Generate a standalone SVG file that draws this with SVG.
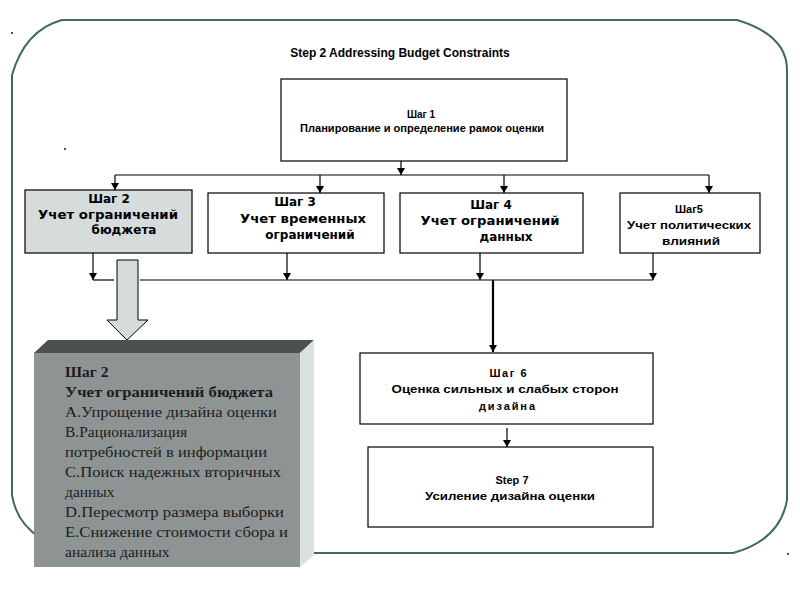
<svg xmlns="http://www.w3.org/2000/svg" width="800" height="600" viewBox="0 0 800 600">
<defs>
<style>
.box{fill:#fff;stroke:#000;stroke-width:1.2}
.t{font-family:"Liberation Sans",Arial,sans-serif;font-weight:bold;fill:#000;text-anchor:middle}
.d{font-family:"DejaVu Sans",Verdana,sans-serif;font-weight:bold;fill:#000;text-anchor:middle;font-size:12px}
.s{font-family:"Liberation Serif","Times New Roman",serif;fill:#1c1c1c;font-size:15.5px}
.ln{stroke:#000;stroke-width:1.2;fill:none}
</style>
<marker id="ah" markerWidth="8" markerHeight="8" refX="7" refY="4" orient="auto" markerUnits="userSpaceOnUse">
<path d="M0,0 L7,4 L0,8 Z" fill="#000"/>
</marker>
</defs>
<rect width="800" height="600" fill="#fff"/>
<path id="frame" d="M62,20 H737 Q787,35 787,70 V500 Q780,540 733,553 H90 Q20,545 12,495 V75 Q25,30 62,20 Z" fill="none" stroke="#3f6868" stroke-width="2"/>
<rect x="11" y="32" width="2" height="2" fill="#555"/>
<rect x="64" y="148" width="2" height="2" fill="#555"/>
<rect x="787" y="553" width="2" height="2" fill="#555"/>
<text class="t" x="400" y="57" font-size="12">Step 2 Addressing Budget Constraints</text>

<g id="connectors">
<line class="ln" x1="401" y1="157" x2="401" y2="175" marker-end="url(#ah)"/>
<line class="ln" x1="115" y1="175" x2="709" y2="175"/>
<line class="ln" x1="115" y1="175" x2="115" y2="190" marker-end="url(#ah)"/>
<line class="ln" x1="320" y1="175" x2="320" y2="193" marker-end="url(#ah)"/>
<line class="ln" x1="504" y1="175" x2="504" y2="193" marker-end="url(#ah)"/>
<line class="ln" x1="709" y1="175" x2="709" y2="193" marker-end="url(#ah)"/>
<line class="ln" x1="93" y1="253" x2="93" y2="280" marker-end="url(#ah)"/>
<line class="ln" x1="287" y1="253" x2="287" y2="280" marker-end="url(#ah)"/>
<line class="ln" x1="480" y1="253" x2="480" y2="280" marker-end="url(#ah)"/>
<line class="ln" x1="653" y1="253" x2="653" y2="280" marker-end="url(#ah)"/>
<line class="ln" x1="93" y1="280" x2="114" y2="280"/>
<line class="ln" x1="140" y1="280" x2="653" y2="280"/>
<line stroke="#000" stroke-width="2.2" x1="493" y1="280" x2="493" y2="352" marker-end="url(#ah)"/>
<line class="ln" x1="507" y1="428" x2="507" y2="447" marker-end="url(#ah)"/>
<path id="blockarrow" d="M117,260 H138 V320 H148 L127,340 L107,320 H117 Z" fill="#d6dcdc" stroke="#000" stroke-width="1"/>
</g>

<g id="step1">
<rect class="box" x="281" y="79" width="286" height="82"/>
<text class="t" x="421" y="118" font-size="10">Шаг 1</text>
<text class="t" x="422" y="132" font-size="10" textLength="244" lengthAdjust="spacingAndGlyphs">Планирование и определение рамок оценки</text>
</g>

<g id="step2">
<rect x="25" y="190" width="167" height="63" fill="#d6dcdc" stroke="#000" stroke-width="1.2"/>
<text class="d" x="109" y="203">Шаг 2</text>
<text class="d" x="108" y="219" textLength="140" lengthAdjust="spacingAndGlyphs">Учет ограничений</text>
<text class="d" x="124" y="234">бюджета</text>
</g>

<g id="step3">
<rect class="box" x="208" y="193" width="176" height="60"/>
<text class="d" x="295" y="206">Шаг 3</text>
<text class="d" x="303" y="223" textLength="126" lengthAdjust="spacingAndGlyphs">Учет временных</text>
<text class="d" x="310" y="239">ограничений</text>
</g>

<g id="step4">
<rect class="box" x="400" y="193" width="183" height="60"/>
<text class="d" x="491" y="209">Шаг 4</text>
<text class="d" x="490" y="225" textLength="139" lengthAdjust="spacingAndGlyphs">Учет ограничений</text>
<text class="d" x="506" y="241">данных</text>
</g>

<g id="step5">
<rect class="box" x="620" y="193" width="140" height="60"/>
<text class="t" x="689" y="213" font-size="11">Шаг5</text>
<text class="t" x="689" y="229" font-size="11" textLength="124" lengthAdjust="spacingAndGlyphs">Учет политических</text>
<text class="t" x="691" y="245" font-size="11" textLength="58" lengthAdjust="spacingAndGlyphs">влияний</text>
</g>

<g id="step6">
<rect class="box" x="360" y="353" width="293" height="71"/>
<text class="t" x="508" y="377" font-size="11" textLength="37" lengthAdjust="spacing">Шаг 6</text>
<text class="t" x="505" y="393" font-size="11" textLength="227" lengthAdjust="spacingAndGlyphs">Оценка сильных и слабых сторон</text>
<text class="t" x="507" y="410" font-size="11" textLength="56" lengthAdjust="spacing">дизайна</text>
</g>

<g id="step7">
<rect class="box" x="368" y="447" width="285" height="80"/>
<text class="t" x="512" y="484" font-size="11">Step 7</text>
<text class="t" x="510" y="500" font-size="11" textLength="170" lengthAdjust="spacingAndGlyphs">Усиление дизайна оценки</text>
</g>

<g id="detail">
<path d="M34,353 L48,340 H314 L300,353 Z" fill="#4b5050"/>
<path d="M300,353 L314,340 V555 L300,567 Z" fill="#d8e0e0"/>
<rect x="34" y="353" width="266" height="214" fill="#8e9494"/>
<text class="s" x="65" y="377" font-weight="bold">Шаг 2</text>
<text class="s" x="65" y="397" font-weight="bold" textLength="208" lengthAdjust="spacingAndGlyphs">Учет ограничений бюджета</text>
<text class="s" x="65" y="417" textLength="212" lengthAdjust="spacingAndGlyphs">A.Упрощение дизайна оценки</text>
<text class="s" x="65" y="437">B.Рационализация</text>
<text class="s" x="65" y="457" textLength="202" lengthAdjust="spacingAndGlyphs">потребностей в информации</text>
<text class="s" x="65" y="477" textLength="216" lengthAdjust="spacingAndGlyphs">C.Поиск надежных вторичных</text>
<text class="s" x="65" y="497">данных</text>
<text class="s" x="65" y="517" textLength="219" lengthAdjust="spacingAndGlyphs">D.Пересмотр размера выборки</text>
<text class="s" x="65" y="537" textLength="223" lengthAdjust="spacingAndGlyphs">E.Снижение стоимости сбора и</text>
<text class="s" x="65" y="557">анализа данных</text>
</g>
</svg>
